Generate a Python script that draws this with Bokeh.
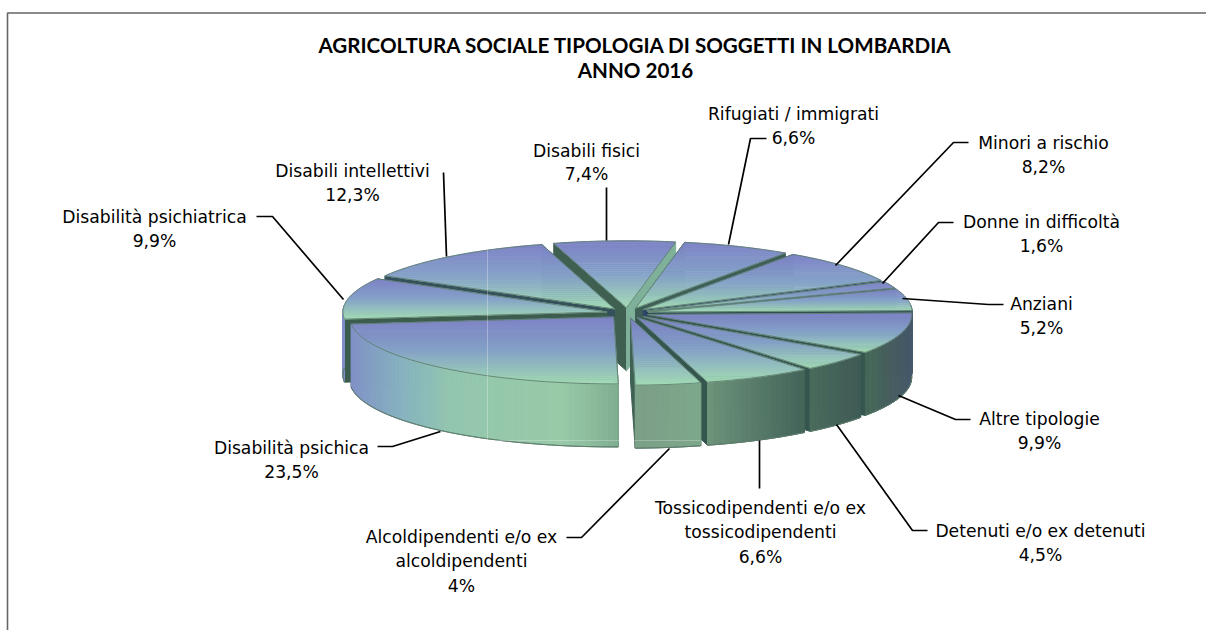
import math
from bokeh.plotting import figure
from bokeh.models import ColumnDataSource, Range1d
from bokeh.core.properties import value
from bokeh.embed import file_html
from bokeh.resources import INLINE

# ---- data (clockwise, starting at the slice nearest to twelve o'clock)
categories = ["Disabili fisici", "Rifugiati / immigrati", "Minori a rischio", "Donne in difficoltà",
              "Anziani", "Altre tipologie", "Detenuti e/o ex detenuti",
              "Tossicodipendenti e/o ex tossicodipendenti", "Alcoldipendenti e/o ex alcoldipendenti",
              "Disabilità psichica", "Disabilità psichiatrica", "Disabili intellettivi"]
shares = [7.4, 6.6, 8.2, 1.6, 5.2, 9.9, 4.5, 6.6, 4.0, 23.5, 9.9, 12.3]
share_labels = ["7,4%", "6,6%", "8,2%", "1,6%", "5,2%", "9,9%", "4,5%", "6,6%", "4%", "23,5%", "9,9%", "12,3%"]
title_lines = ["AGRICOLTURA SOCIALE TIPOLOGIA DI SOGGETTI IN LOMBARDIA", "ANNO 2016"]

# ---- layout
W, H = 1206, 630
X0, Y0 = 0, 0
CX, CY, RX, RY, DEPTH = 627, 312.5, 264, 67, 63
EX, EY = 21, 5.2
START = -16.0

label_layout = [  # centre x, y of every line, text of the lines
    (586, [150, 173], ["Disabili fisici"]),
    (793, [113, 137], ["Rifugiati / immigrati"]),
    (1043, [142, 166], ["Minori a rischio"]),
    (1041, [221, 245], ["Donne in difficoltà"]),
    (1041, [303, 327], ["Anziani"]),
    (1039, [418, 442], ["Altre tipologie"]),
    (1040, [530, 554], ["Detenuti e/o ex detenuti"]),
    (760, [507, 531, 556], ["Tossicodipendenti e/o ex", "tossicodipendenti"]),
    (461, [536, 560, 585], ["Alcoldipendenti e/o ex", "alcoldipendenti"]),
    (291, [447, 471], ["Disabilità psichica"]),
    (154, [216, 240], ["Disabilità psichiatrica"]),
    (352, [170, 194], ["Disabili intellettivi"]),
]
leaders = [
    [(606, 240), (606, 187)],
    [(728, 244), (750, 138), (766, 138)],
    [(835, 265), (953, 142), (968, 142)],
    [(882, 283), (938, 222), (953, 222)],
    [(902, 298), (988, 304), (1003, 304)],
    [(898, 395), (955, 419), (970, 419)],
    [(836, 424), (912, 530), (927, 530)],
    [(759, 440), (759, 488)],
    [(669, 448), (581, 537), (566, 537)],
    [(440, 431), (392, 446), (377, 446)],
    [(343, 299), (272, 216), (256, 216)],
    [(446, 256), (443, 172)],
]
start_wall = ["#3f5f50", "#3d5f56", "#2f4766", "#2b3f68", "#2f4f55", "#34564f", "#34564f",
              "#34564f", "#3f6153", "#3c5c4e", "#3c5c4e", "#34505a"]
end_wall = ["#7fb09a", "#3d5f56", "#2f4766", "#2b3f68", "#2f4f55", "#34564f", "#34564f",
            "#34564f", "#3f6153", "#3c5c4e", "#3c5c4e", "#34505a"]
rim_stops = [(338, "#7f8ac8"), (400, "#86b2c0"), (450, "#93c6ae"), (560, "#98caa8"), (622, "#7dac8e"),
             (640, "#7c9f88"), (700, "#7da88a"), (712, "#6a9078"), (800, "#45655a"),
             (812, "#4a6a5c"), (860, "#3f5a55"), (868, "#47695a"), (885, "#465f5c"), (908, "#46586a")]
top_stops = [(0.0, "#7d82c6"), (0.5, "#85a2c8"), (1.0, "#a2dab4")]


def rgb(h):
    return tuple(int(h[i:i + 2], 16) for i in (1, 3, 5))


def mix(a, b, t):
    ca, cb = rgb(a), rgb(b)
    return "#%02x%02x%02x" % tuple(round(ca[i] + (cb[i] - ca[i]) * t) for i in range(3))


def ramp(stops, v):
    if v <= stops[0][0]:
        return stops[0][1]
    for (p, c), (q, d) in zip(stops, stops[1:]):
        if v <= q:
            return mix(c, d, (v - p) / (q - p))
    return stops[-1][1]


def clip(poly, y, keep_below):
    out = []
    for i in range(len(poly)):
        a, b = poly[i], poly[(i + 1) % len(poly)]
        ina = a[1] >= y if keep_below else a[1] <= y
        inb = b[1] >= y if keep_below else b[1] <= y
        if ina:
            out.append(a)
        if ina != inb:
            t = (y - a[1]) / (b[1] - a[1])
            out.append((a[0] + (b[0] - a[0]) * t, y))
    return out


rows = {k: [] for k in ("xs", "ys", "fill", "fa", "line", "la", "lw")}


def add(poly, fill, line=None, fa=1.0, la=1.0, lw=1.0):
    rows["xs"].append([q[0] for q in poly])
    rows["ys"].append([q[1] for q in poly])
    rows["fill"].append(fill)
    rows["fa"].append(fa)
    rows["line"].append(line or fill)
    rows["la"].append(la)
    rows["lw"].append(lw)


total = sum(shares)
slices = []
acc = 0.0
for i, s in enumerate(shares):
    a0 = START + 360 * acc / total
    acc += s
    a1 = START + 360 * acc / total
    slices.append((i, a0, a1))
slices.sort(key=lambda t: -math.cos(math.radians((t[1] + t[2]) / 2)))

for i, a0, a1 in slices:
    b = math.radians((a0 + a1) / 2)
    ax, ay = CX + EX * math.sin(b), CY - EY * math.cos(b)
    n = max(4, int((a1 - a0) / 1.2))
    ts = [a0 + (a1 - a0) * k / n for k in range(n + 1)]
    arc = [(ax + RX * math.sin(math.radians(t)), ay - RY * math.cos(math.radians(t))) for t in ts]
    # radial walls
    for e, col in ((arc[0], start_wall[i]), (arc[-1], end_wall[i])):
        add([(ax, ay), e, (e[0], e[1] + DEPTH), (ax, ay + DEPTH)], col)
    # rim, painted in thin vertical pieces
    for k in range(n):
        p, q = arc[k], arc[k + 1]
        if math.cos(math.radians(ts[k])) < 0.1 or math.cos(math.radians(ts[k + 1])) < 0.1:
            add([p, q, (q[0], q[1] + DEPTH), (p[0], p[1] + DEPTH)], ramp(rim_stops, (p[0] + q[0]) / 2))
    # rim outline at the bottom
    low = [(x, y + DEPTH) for x, y in arc if y > ay - 8]
    if len(low) > 1:
        add(low + low[::-1], "#5d7a6c", "#5d7a6c", fa=0, la=0.8, lw=1.0)
    # top face: horizontal bands, the colour running from blue at the back to green at the front
    top = [(ax, ay)] + arc
    ymin, ymax = min(q[1] for q in top), max(q[1] for q in top)
    bands = max(6, int((ymax - ymin) / 2))
    for k in range(bands):
        y0 = ymin + (ymax - ymin) * k / bands
        y1 = ymin + (ymax - ymin) * (k + 1) / bands
        piece = clip(clip(top, y0, True), y1, False)
        if len(piece) >= 3:
            add(piece, ramp(top_stops, (k + 0.5) / bands), lw=0.7)
    add(top, "#000000", "#5f8070", fa=0, la=0.9, lw=1.0)

p = figure(width=W, height=H, x_range=Range1d(X0, X0 + W), y_range=Range1d(Y0 + H, Y0),
           toolbar_location=None, output_backend="svg", min_border=0)
p.axis.visible = False
p.grid.visible = False
p.outline_line_color = None
p.background_fill_color = "#ffffff"

# frame of the picture: left and top only reach the edge of the page
p.line([7, 7, 1206], [630, 12.5, 12.5], line_color="#666666", line_width=1.6)

p.patches("xs", "ys", source=ColumnDataSource(rows), fill_color="fill", fill_alpha="fa",
          line_color="line", line_alpha="la", line_width="lw")
p.line([487, 487], [246, 440], line_color="#ffffff", line_alpha=0.3, line_width=1)
p.line([487, 700], [440, 440], line_color="#ffffff", line_alpha=0.25, line_width=1)

p.multi_line([[q[0] for q in l] for l in leaders], [[q[1] for q in l] for l in leaders],
             line_color="#000000", line_width=1.7)

tx, ty, tt = [], [], []
for (cx, ylist, lines), pct in zip(label_layout, share_labels):
    for y, t in zip(ylist, lines + [pct]):
        tx.append(cx); ty.append(y); tt.append(t)
p.text(tx, ty, text=tt, text_align="center", text_baseline="middle", text_color="#000000",
       text_font=value("DejaVu Sans"), text_font_size="17.2px", text_font_style="normal")
p.text([635, 635], [44, 69], text=title_lines, text_align="center", text_baseline="middle",
       text_color="#000000", text_font=value("Lato"), text_font_size="20.6px",
       text_font_style="bold")

open("out.html", "w").write(file_html(p, INLINE))
